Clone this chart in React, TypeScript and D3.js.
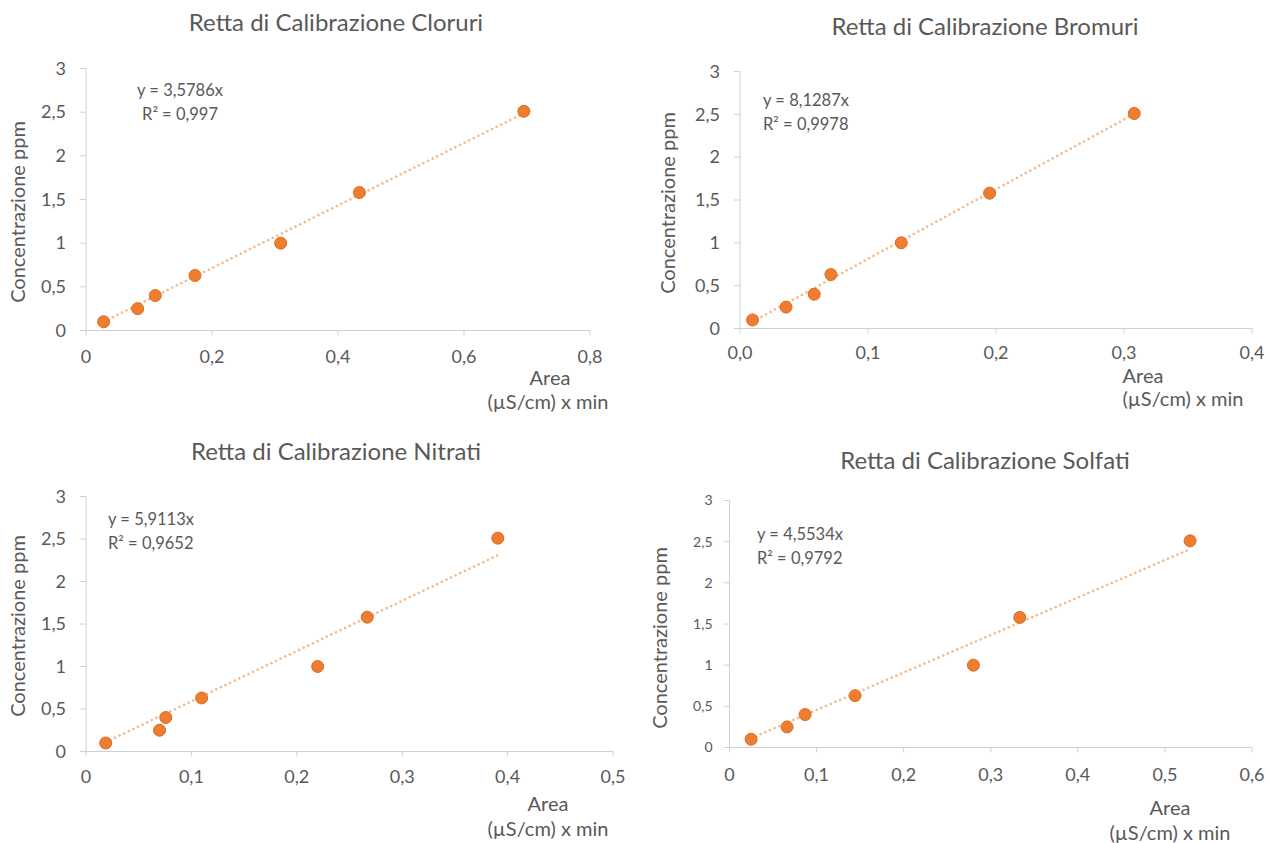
import React from "react";
import * as d3 from "d3";

// concentrazioni degli standard (uguali per tutti gli anioni)
const concentrations = [0.1, 0.25, 0.4, 0.63, 1, 1.58, 2.51];

// aree dei picchi
const areaCloruri = [0.028, 0.082, 0.11, 0.173, 0.309, 0.434, 0.695];
const areaBromuri = [0.0098, 0.036, 0.058, 0.071, 0.126, 0.195, 0.308];
const areaNitrati = [0.0187, 0.0698, 0.0757, 0.1097, 0.2198, 0.2668, 0.3907];
const areaSolfati = [0.0248, 0.0661, 0.0868, 0.1442, 0.2801, 0.3333, 0.5289];

const titles = [
  "Retta di Calibrazione Cloruri",
  "Retta di Calibrazione Bromuri",
  "Retta di Calibrazione Nitrati",
  "Retta di Calibrazione Solfati",
];
const slopes = [3.5786, 8.1287, 5.9113, 4.5534];
const slopeLabels = ["3,5786", "8,1287", "5,9113", "4,5534"];
const r2Labels = ["0,997", "0,9978", "0,9652", "0,9792"];
const xMaxes = [0.8, 0.4, 0.5, 0.6];
const xSteps = [0.2, 0.1, 0.1, 0.1];
const yTicks = [0, 0.5, 1, 1.5, 2, 2.5, 3];
const yTitles = ["Concentrazione  ppm", "Concentrazione ppm", "Concentrazione ppm", "Concentrazione ppm"];

const FONT = "Lato, 'Open Sans', sans-serif";
const TEXT = "#595959";
const AXIS = "#d0d0d0";
const DOT = "#ed7d31";
const TREND = "#f6b989";

// posizioni dei pannelli (solo layout)
const layouts = [
  { x0: 86, x1: 590, y0: 330.5, y1: 68.5, titleX: 336, titleY: 31, eqX: 180, eqY: 96, eqAnchor: "middle",
    yTitleX: 18, yTitleY: 212, areaX: 550, areaY: 385, unitX: 548, unitY: 409, xTickY: 363, yTickSize: 18, zeroDec: false },
  { x0: 740, x1: 1252, y0: 328.5, y1: 71.5, titleX: 985, titleY: 35, eqX: 763, eqY: 106, eqAnchor: "start",
    yTitleX: 668, yTitleY: 203, areaX: 1143, areaY: 383, unitX: 1183, unitY: 406, xTickY: 359, yTickSize: 18, zeroDec: true },
  { x0: 86, x1: 613, y0: 751.5, y1: 496.5, titleX: 336, titleY: 460, eqX: 108, eqY: 525, eqAnchor: "start",
    yTitleX: 18, yTitleY: 626, areaX: 548, areaY: 811, unitX: 548, unitY: 836, xTickY: 783, yTickSize: 18, zeroDec: false },
  { x0: 729.5, x1: 1252, y0: 747.5, y1: 500.5, titleX: 985, titleY: 469, eqX: 757, eqY: 540, eqAnchor: "start",
    yTitleX: 660, yTitleY: 638, areaX: 1170, areaY: 815, unitX: 1170, unitY: 840, xTickY: 781, yTickSize: 14, zeroDec: false },
];

const fmt = (v: number, zeroDec: boolean) => {
  if (v === 0) return zeroDec ? "0,0" : "0";
  return String(+v.toFixed(2)).replace(".", ",");
};

const Panel = ({ idx, areas }: { idx: number; areas: number[] }) => {
  const L = layouts[idx];
  const x = d3.scaleLinear().domain([0, xMaxes[idx]]).range([L.x0, L.x1]);
  const y = d3.scaleLinear().domain([0, 3]).range([L.y0, L.y1]);
  const xTicks = d3.range(0, xMaxes[idx] + 1e-9, xSteps[idx]);
  const pts = areas.map((a, i) => [a, concentrations[i]]);
  const xmin = d3.min(areas) as number;
  const xmax = d3.max(areas) as number;
  const trend = d3.line<number>()
    .x((d) => x(d))
    .y((d) => y(d * slopes[idx]))([xmin, xmax]);
  const gap = L.yTickSize < 16 ? 17 : 20;

  return (
    <g fontFamily={FONT} fill={TEXT}>
      <text x={L.titleX} y={L.titleY} textAnchor="middle" fontSize={24}>{titles[idx]}</text>

      {/* assi */}
      <line x1={L.x0} x2={L.x1} y1={L.y0} y2={L.y0} stroke={AXIS} />
      <line x1={L.x0} x2={L.x0} y1={L.y0} y2={L.y1} stroke={AXIS} />
      {xTicks.map((t) => (
        <g key={"x" + t}>
          <line x1={x(t)} x2={x(t)} y1={L.y0} y2={L.y0 + 5} stroke={AXIS} />
          <text x={x(t)} y={L.xTickY} textAnchor="middle" fontSize={18}>{fmt(t, L.zeroDec)}</text>
        </g>
      ))}
      {yTicks.map((t) => (
        <g key={"y" + t}>
          <line x1={L.x0 - 6} x2={L.x0} y1={y(t)} y2={y(t)} stroke={AXIS} />
          <text x={L.x0 - gap} y={y(t)} dy="0.35em" textAnchor="end" fontSize={L.yTickSize}>{fmt(t, false)}</text>
        </g>
      ))}

      <text transform={`translate(${L.yTitleX},${L.yTitleY}) rotate(-90)`} textAnchor="middle" dy="0.35em" fontSize={20}>
        {yTitles[idx]}
      </text>
      <text x={L.areaX} y={L.areaY} textAnchor="middle" fontSize={20}>Area</text>
      <text x={L.unitX} y={L.unitY} textAnchor="middle" fontSize={20}>(µS/cm) x min</text>

      {/* linea di tendenza */}
      <path d={trend || ""} fill="none" stroke={TREND} strokeWidth={2.6} strokeDasharray="0.1 5" strokeLinecap="round" />

      {pts.map((p, i) => (
        <circle key={i} cx={x(p[0])} cy={y(p[1])} r={6} fill={DOT} stroke="#e06a1c" strokeWidth={1} />
      ))}

      <text x={L.eqX} y={L.eqY} textAnchor={L.eqAnchor} fontSize={16.5}>y = {slopeLabels[idx]}x</text>
      <text x={L.eqX} y={L.eqY + 24} textAnchor={L.eqAnchor} fontSize={16.5}>R² = {r2Labels[idx]}</text>
    </g>
  );
};

export default function App() {
  return (
    <svg width={1270} height={843} style={{ position: "absolute", left: 0, top: 0, background: "#fff" }}>
      <Panel idx={0} areas={areaCloruri} />
      <Panel idx={1} areas={areaBromuri} />
      <Panel idx={2} areas={areaNitrati} />
      <Panel idx={3} areas={areaSolfati} />
    </svg>
  );
}
